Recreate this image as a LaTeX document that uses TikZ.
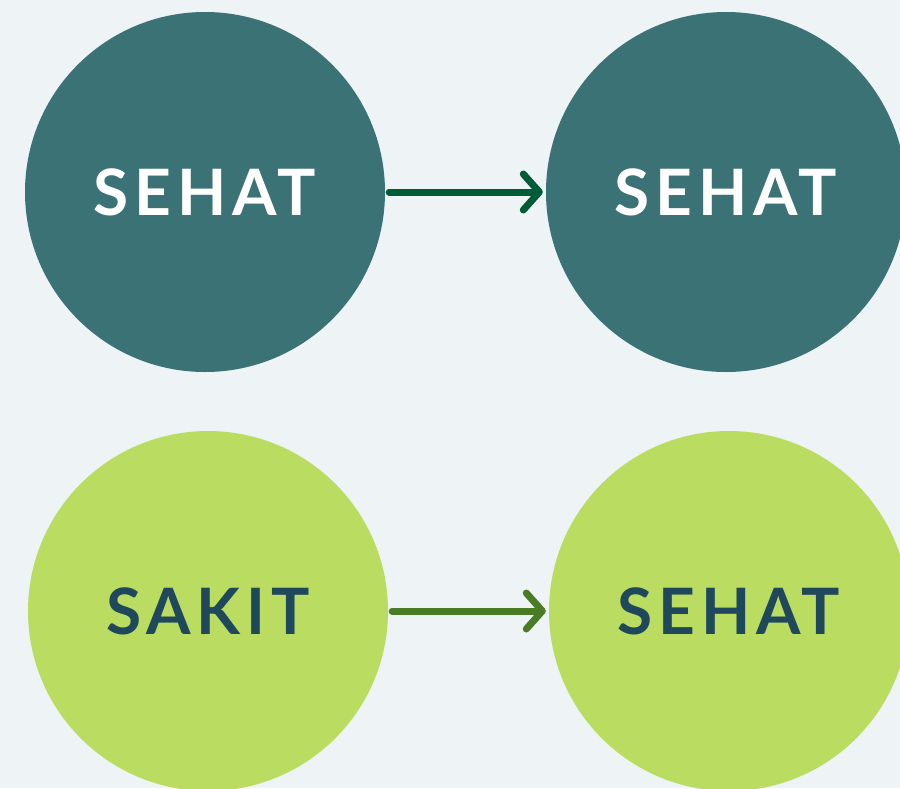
\documentclass[tikz,border=0pt]{standalone}
\usepackage{fontspec}
\usetikzlibrary{arrows.meta}
\newfontfamily\StateFont[LetterSpace=9]{Lato Bold}
\definecolor{BgGrey}{RGB}{238,243,246}
\definecolor{TealFill}{RGB}{58,114,118}
\definecolor{LimeFill}{RGB}{186,220,96}
\definecolor{NavyText}{RGB}{31,72,92}
\definecolor{DarkGreen}{RGB}{0,92,54}
\definecolor{LeafGreen}{RGB}{74,124,38}

\begin{document}
\begin{tikzpicture}[
          x=1pt, y=-1pt,
          % Environment Config
          font=\StateFont\fontsize{64}{64}\selectfont,
          StateTop/.style={% Healthy state circles
            circle,
            fill=TealFill,
            text=white,
            minimum size=360pt,
            inner sep=0pt
          },
          StateBottom/.style={% Sick/healthy circles below
            circle,
            fill=LimeFill,
            text=NavyText,
            minimum size=360pt,
            inner sep=0pt
          },
          MyArrow/.style={% Style for the transitions
            -{Straight Barb[length=16pt,width=36pt,round]},
            line width=7pt,
            line cap=round,
            shorten <= 4pt,
            shorten >= 3pt
          }
        ]

        % Background and page size
        \fill[BgGrey] (0,0) rectangle (900,788);
        \useasboundingbox (0,0) rectangle (900,788);

        %===Top row===
        \node[StateTop] (T1) at (205,192) {SEHAT};
        \node[StateTop] (T2) at (726,192) {SEHAT};

        %===Bottom row===
        \node[StateBottom] (B1) at (208,611) {SAKIT};
        \node[StateBottom] (B2) at (729,611) {SEHAT};

        % Draw the transitions
        \draw[MyArrow, DarkGreen] (T1) -- (T2);
        \draw[MyArrow, LeafGreen] (B1) -- (B2);

\end{tikzpicture}
\end{document}
